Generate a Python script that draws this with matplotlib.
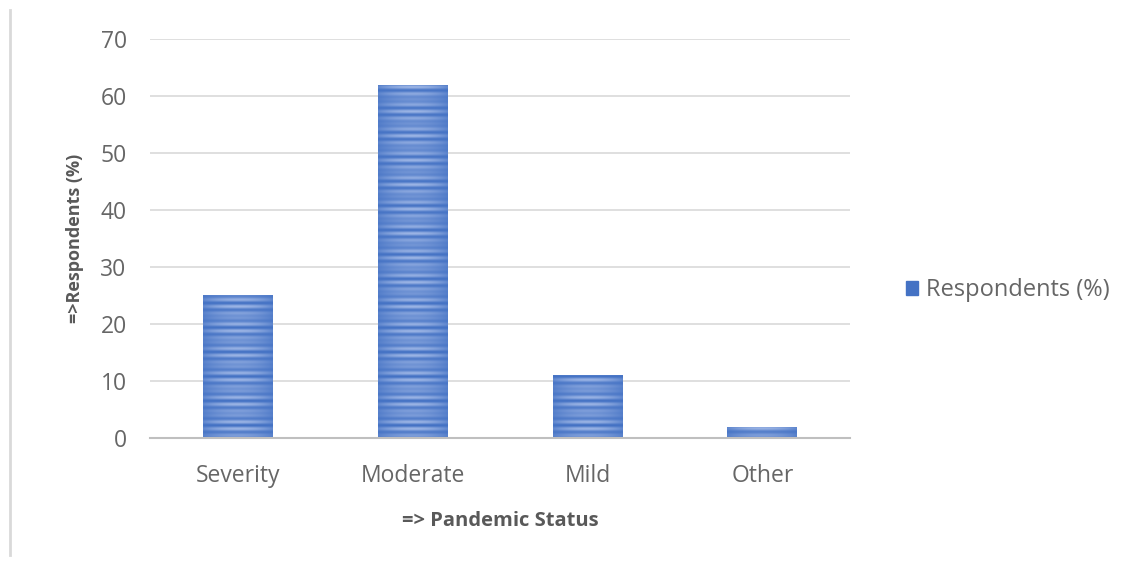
import numpy as np
import matplotlib.pyplot as plt
from matplotlib.lines import Line2D
from matplotlib.patches import Patch

categories = ['Severity', 'Moderate', 'Mild', 'Other']
respondents = [25, 62, 11, 2]
yticks = [0, 10, 20, 30, 40, 50, 60, 70]

plt.rcParams['font.family'] = ['Open Sans', 'DejaVu Sans']

fig = plt.figure(figsize=(11.47, 5.64), dpi=100)
ax = fig.add_axes([0.131, 0.2234, 0.610, 0.7076])

x = np.arange(len(categories))
bars = ax.bar(x, respondents, width=0.4, color='#4472C4', zorder=2)

# striped fill like the original picture
rows = np.arange(400)
stripe = 0.5 + 0.5 * np.sin(rows * 0.9) * np.sin(rows * 0.13)
cols = np.linspace(-1, 1, 50)
across = 1 - cols ** 2
light = np.clip(stripe[:, None] * (0.35 + 0.65 * across[None, :]), 0, 1)
base = np.array([0x44, 0x72, 0xC4]) / 255
hi = np.array([0xB4, 0xC7, 0xEE]) / 255
img = base[None, None, :] + (hi - base)[None, None, :] * light[:, :, None] * 0.8
for b in bars:
    x0 = b.get_x()
    im = ax.imshow(img, extent=[x0, x0 + b.get_width(), 0, 70], aspect='auto',
                   origin='lower', zorder=3, interpolation='bilinear')
    im.set_clip_path(b)

ax.set_xlim(-0.5, len(categories) - 0.5)
ax.set_ylim(0, 70)
ax.set_yticks(yticks)
ax.set_xticks(x)
ax.set_xticklabels(categories)
ax.grid(axis='y', color='#d9d9d9', linewidth=1.2, zorder=0)
ax.set_axisbelow(True)
for s in ['top', 'right', 'left']:
    ax.spines[s].set_visible(False)
ax.spines['bottom'].set_color('#bfbfbf')
ax.spines['bottom'].set_linewidth(1.5)
ax.spines['bottom'].set_zorder(4)
ax.tick_params(length=0, labelsize=16.5, labelcolor='#666666')
ax.tick_params(axis='y', pad=17)
ax.tick_params(axis='x', pad=19)

ax.set_ylabel('=>Respondents (%)', fontsize=13, fontweight='bold', color='#595959', labelpad=12)
ax.set_xlabel('=> Pandemic Status', fontsize=14.5, fontweight='bold', color='#595959', labelpad=16)

ax.legend(handles=[Patch(color='#4472C4', label='Respondents (%)')],
          loc='center left', bbox_to_anchor=(1.05, 0.37), frameon=False,
          fontsize=17, labelcolor='#666666', handlelength=0.5, handleheight=0.5,
          handletextpad=0.35)

fig.add_artist(Line2D([10 / 1147, 10 / 1147], [1 - 10 / 564, 1 - 555 / 564],
                      color='#d9d9d9', linewidth=2))

fig.savefig('out.png', dpi=100)
